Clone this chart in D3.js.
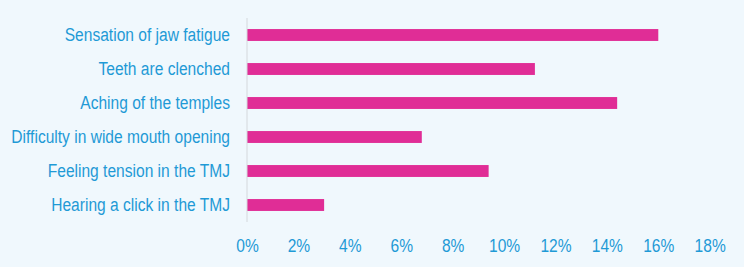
<!DOCTYPE html>
<html><head><meta charset="utf-8">
<script src="https://cdn.jsdelivr.net/npm/d3@7"></script>
<style>
html,body{margin:0;padding:0;background:#f0f8fd;}
svg{display:block;}
text{font-family:"Liberation Sans",Arial,sans-serif;}
</style></head>
<body>
<svg id="chart" width="744" height="267"></svg>
<script>
const categories = ["Sensation of jaw fatigue","Teeth are clenched","Aching of the temples","Difficulty in wide mouth opening","Feeling tension in the TMJ","Hearing a click in the TMJ"];
const values = [16.0, 11.2, 14.4, 6.8, 9.4, 3.0];
const tickValues = [0,2,4,6,8,10,12,14,16,18];
const tickLabels = ["0%","2%","4%","6%","8%","10%","12%","14%","16%","18%"];

(function(){
const svg = d3.select("#chart");
const W = 744, H = 267;
svg.append("rect").attr("width",W).attr("height",H).attr("fill","#f0f8fd");
const mLeft = 247, mRight = 709.7, mTop = 18, mBottom = 222;
const x = d3.scaleLinear().domain([0,18]).range([mLeft,mRight]);
const y = d3.scaleBand().domain(categories).range([mTop,mBottom]).paddingInner(0.65).paddingOuter(0.325);
const FONT = '"Liberation Sans",Arial,sans-serif';
const SX = 0.82;

svg.append("g").selectAll("rect").data(values).join("rect")
  .attr("x", x(0))
  .attr("y", (d,i)=>y(categories[i]))
  .attr("width", d=>x(d)-x(0))
  .attr("height", y.bandwidth())
  .attr("fill","#e02d96");

svg.append("line").attr("x1",x(0)).attr("x2",x(0)).attr("y1",mTop).attr("y2",mBottom)
  .attr("stroke","#d4d8dc").attr("stroke-width",1);

const yAxis = d3.axisLeft(y).tickSize(0).tickPadding(17);
const gy = svg.append("g").attr("transform",`translate(${x(0)},0)`).call(yAxis);
gy.select(".domain").remove();
gy.selectAll("text").attr("fill","#1f9ad6").attr("font-size","19px").attr("font-family",FONT)
  .attr("x",0).attr("dy","0.3em").attr("transform",`translate(-17,0) scale(${SX},1)`);

const xAxis = d3.axisBottom(x).tickValues(tickValues).tickFormat((d,i)=>tickLabels[i]).tickSize(0).tickPadding(17);
const gx = svg.append("g").attr("transform",`translate(0,${mBottom})`).call(xAxis);
gx.select(".domain").remove();
gx.selectAll("text").attr("fill","#1f9ad6").attr("font-size","19px").attr("font-family",FONT)
  .attr("transform",`scale(${SX},1)`);
})();
</script>
</body></html>
